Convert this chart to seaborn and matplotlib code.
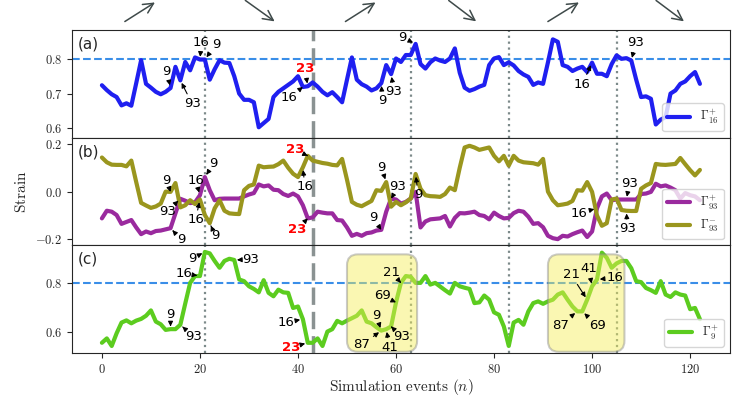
import numpy as np
import pandas as pd
import matplotlib.pyplot as plt
import seaborn as sns
from matplotlib.patches import FancyBboxPatch
from matplotlib.ticker import FuncFormatter

sns.set_style('ticks')
plt.rcParams['mathtext.fontset'] = 'cm'

n = np.arange(123)

g16p = [0.724, 0.710, 0.698, 0.690, 0.666, 0.672, 0.665, 0.730, 0.796, 0.728,
        0.717, 0.705, 0.698, 0.705, 0.716, 0.777, 0.738, 0.791, 0.767, 0.804,
        0.798, 0.798, 0.740, 0.770, 0.796, 0.789, 0.788, 0.750, 0.700, 0.682,
        0.682, 0.675, 0.603, 0.615, 0.627, 0.690, 0.705, 0.715, 0.725, 0.735,
        0.750, 0.719, 0.721, 0.732, 0.720, 0.705, 0.695, 0.704, 0.690, 0.675,
        0.740, 0.804, 0.740, 0.727, 0.720, 0.709, 0.715, 0.730, 0.782, 0.756,
        0.801, 0.791, 0.811, 0.811, 0.843, 0.785, 0.772, 0.790, 0.801, 0.795,
        0.791, 0.801, 0.830, 0.760, 0.717, 0.708, 0.713, 0.720, 0.725, 0.782,
        0.801, 0.805, 0.782, 0.790, 0.781, 0.765, 0.755, 0.748, 0.725, 0.732,
        0.728, 0.790, 0.856, 0.849, 0.782, 0.777, 0.765, 0.772, 0.777, 0.762,
        0.789, 0.757, 0.757, 0.750, 0.785, 0.810, 0.800, 0.802, 0.795, 0.740,
        0.690, 0.692, 0.685, 0.611, 0.625, 0.632, 0.700, 0.709, 0.728, 0.735,
        0.750, 0.762, 0.728]

g93p = [-0.112, -0.080, -0.084, -0.098, -0.135, -0.127, -0.119, -0.150, -0.178, -0.167,
        -0.174, -0.165, -0.163, -0.158, -0.153, -0.091, -0.030, -0.038, -0.048, -0.045,
        -0.015, 0.061, 0.006, -0.036, -0.030, -0.029, -0.029, -0.029, -0.029, -0.020,
        -0.012, -0.006, 0.030, 0.022, 0.026, 0.008, 0.006, -0.010, -0.018, -0.008,
        -0.020, -0.057, -0.112, -0.108, -0.084, -0.088, -0.091, -0.091, -0.119, -0.121,
        -0.150, -0.185, -0.177, -0.185, -0.174, -0.171, -0.163, -0.160, -0.084, -0.029,
        -0.033, -0.050, -0.043, -0.029, -0.001, -0.150, -0.125, -0.116, -0.114, -0.112,
        -0.102, -0.146, -0.110, -0.090, -0.091, -0.088, -0.084, -0.098, -0.102, -0.116,
        -0.088, -0.102, -0.112, -0.110, -0.090, -0.080, -0.084, -0.105, -0.135, -0.132,
        -0.149, -0.185, -0.195, -0.199, -0.185, -0.188, -0.178, -0.170, -0.163, -0.190,
        -0.167, -0.070, -0.020, -0.008, -0.036, -0.033, -0.033, -0.033, -0.033, -0.033,
        -0.010, -0.008, -0.001, 0.033, 0.022, 0.026, 0.017, 0.006, -0.029, -0.006,
        -0.015, -0.020, -0.036]

g93m = [0.143, 0.123, 0.113, 0.112, 0.112, 0.106, 0.130, 0.040, -0.047, -0.058,
        -0.068, -0.062, -0.050, 0.000, -0.001, 0.036, -0.066, -0.057, -0.036, -0.052,
        -0.033, -0.098, -0.132, -0.070, -0.036, -0.080, -0.091, -0.093, -0.094, 0.006,
        0.024, 0.030, 0.109, 0.102, 0.104, 0.105, 0.115, 0.130, 0.100, 0.075,
        0.061, 0.102, 0.150, 0.130, 0.125, 0.120, 0.117, 0.112, 0.110, 0.137,
        0.050, -0.043, -0.055, -0.061, -0.050, -0.039, 0.006, 0.003, 0.040, -0.063,
        -0.043, -0.057, -0.045, -0.029, 0.074, 0.012, -0.015, -0.019, -0.020, -0.022,
        -0.010, 0.017, 0.006, 0.100, 0.185, 0.192, 0.185, 0.175, 0.180, 0.185,
        0.150, 0.127, 0.150, 0.109, 0.150, 0.130, 0.123, 0.121, 0.119, 0.113,
        0.137, 0.000, -0.036, -0.057, -0.054, -0.050, -0.039, 0.006, 0.004, 0.040,
        -0.001, -0.100, -0.143, -0.132, -0.033, -0.029, -0.077, -0.080, -0.081, -0.081,
        0.012, 0.026, 0.036, 0.116, 0.113, 0.112, 0.114, 0.116, 0.141, 0.115,
        0.090, 0.068, 0.091]

g9p = [0.554, 0.572, 0.541, 0.593, 0.637, 0.646, 0.634, 0.645, 0.652, 0.665,
       0.687, 0.641, 0.630, 0.607, 0.610, 0.610, 0.628, 0.715, 0.800, 0.828,
       0.828, 0.927, 0.921, 0.890, 0.862, 0.890, 0.899, 0.894, 0.814, 0.807,
       0.786, 0.775, 0.761, 0.811, 0.759, 0.745, 0.772, 0.761, 0.759, 0.697,
       0.703, 0.651, 0.554, 0.554, 0.572, 0.541, 0.600, 0.610, 0.644, 0.634,
       0.645, 0.655, 0.665, 0.687, 0.641, 0.634, 0.618, 0.604, 0.610, 0.621,
       0.720, 0.800, 0.828, 0.825, 0.800, 0.800, 0.828, 0.793, 0.800, 0.785,
       0.770, 0.756, 0.800, 0.786, 0.780, 0.775, 0.717, 0.720, 0.748, 0.731,
       0.679, 0.669, 0.621, 0.541, 0.637, 0.648, 0.628, 0.683, 0.717, 0.724,
       0.714, 0.724, 0.731, 0.752, 0.761, 0.731, 0.703, 0.683, 0.683, 0.731,
       0.786, 0.814, 0.924, 0.903, 0.862, 0.880, 0.890, 0.890, 0.860, 0.807,
       0.803, 0.779, 0.770, 0.759, 0.807, 0.752, 0.742, 0.761, 0.752, 0.748,
       0.692, 0.697, 0.651]

df = pd.DataFrame({'n': n, 'g16p': g16p, 'g93p': g93p, 'g93m': g93m, 'g9p': g9p})

dotted_events = [21, 63, 83, 105]
dashed_event = 43
boxes = [(50, 64.3), (91, 106.6)]

# (label, target n, series, text x, text y, red)
notes_a = [('16', 20, 'g16p', 20.3, 0.848, False), ('9', 21, 'g16p', 23.3, 0.842, False),
           ('9', 14, 'g16p', 13.2, 0.764, False), ('93', 16, 'g16p', 18.4, 0.671, False),
           ('23', 42, 'g16p', 41.4, 0.772, True), ('16', 41, 'g16p', 38.2, 0.688, False),
           ('9', 57, 'g16p', 57.2, 0.680, False), ('93', 59, 'g16p', 59.6, 0.705, False),
           ('9', 64, 'g16p', 61.3, 0.862, False), ('16', 100, 'g16p', 98.0, 0.727, False),
           ('93', 108, 'g16p', 108.9, 0.846, False)]
notes_b = [('9', 14, 'g93m', 13.2, 0.048, False), ('93', 16, 'g93p', 13.3, -0.083, False),
           ('16', 20, 'g93p', 19.1, 0.048, False), ('9', 21, 'g93p', 22.8, 0.117, False),
           ('16', 20, 'g93m', 19.1, -0.118, False), ('9', 22, 'g93m', 23.1, -0.184, False),
           ('9', 14, 'g93p', 16.1, -0.200, False), ('23', 42, 'g93m', 39.4, 0.175, True),
           ('16', 41, 'g93m', 41.4, 0.020, False), ('23', 42, 'g93p', 39.8, -0.159, True),
           ('9', 58, 'g93m', 57.0, 0.103, False), ('93', 59, 'g93p', 60.4, 0.020, False),
           ('9', 57, 'g93p', 55.3, -0.110, False), ('9', 64, 'g93m', 64.5, -0.014, False),
           ('93', 107, 'g93p', 107.6, 0.034, False), ('93', 107, 'g93m', 107.2, -0.156, False),
           ('16', 101, 'g93p', 97.4, -0.090, False)]
notes_c = [('9', 14, 'g9p', 14.0, 0.669, False), ('93', 16, 'g9p', 18.7, 0.579, False),
           ('16', 20, 'g9p', 16.7, 0.839, False), ('9', 21, 'g9p', 18.4, 0.899, False),
           ('93', 27, 'g9p', 30.3, 0.896, False), ('16', 41, 'g9p', 37.6, 0.637, False),
           ('23', 42, 'g9p', 38.6, 0.535, True), ('9', 57, 'g9p', 56.0, 0.665, False),
           ('87', 57, 'g9p', 53.0, 0.545, False), ('41', 58, 'g9p', 58.7, 0.535, False),
           ('93', 59, 'g9p', 61.1, 0.579, False), ('69', 60, 'g9p', 57.2, 0.747, False),
           ('21', 61, 'g9p', 59.1, 0.844, False), ('21', 99, 'g9p', 95.7, 0.834, False),
           ('41', 100, 'g9p', 99.3, 0.858, False), ('16', 101, 'g9p', 104.7, 0.821, False),
           ('87', 97, 'g9p', 93.5, 0.627, False), ('69', 98, 'g9p', 101.1, 0.623, False)]

# direction arrows above the top panel: (start n, end n, up?)
top_arrows = [(4.2, 11.3, True), (28.8, 35.7, False), (49.2, 56.3, True),
              (70.3, 76.8, False), (90.5, 97.8, True), (112.6, 119.2, False)]

c_blue = '#1f1ff0'
c_purple = '#9a2a9e'
c_olive = '#9a961e'
c_green = '#5ccc1f'
c_hline = '#3a8ee8'
c_vline = '#7c8a8a'

fig, axs = plt.subplots(3, 1, figsize=(7.47, 3.98), dpi=100, sharex=True)
fig.subplots_adjust(left=0.0964, right=0.977, top=0.9246, bottom=0.113, hspace=0)

sns.lineplot(data=df, x='n', y='g16p', ax=axs[0], color=c_blue, lw=3, label=r'$\Gamma_{16}^{+}$')
sns.lineplot(data=df, x='n', y='g93p', ax=axs[1], color=c_purple, lw=3, label=r'$\Gamma_{93}^{+}$')
sns.lineplot(data=df, x='n', y='g93m', ax=axs[1], color=c_olive, lw=3, label=r'$\Gamma_{93}^{-}$')
sns.lineplot(data=df, x='n', y='g9p', ax=axs[2], color=c_green, lw=3, label=r'$\Gamma_{9}^{+}$')

for ax in axs:
    for x in dotted_events:
        ax.axvline(x, color=c_vline, ls=':', lw=1.6, zorder=1)
    ax.axvline(dashed_event, color='#8a9292', ls=(0, (5, 2)), lw=2.5, zorder=1)
    ax.set_ylabel('')
    ax.set_xlabel('')
    ax.legend(loc='lower right', fontsize=9, handlelength=1.8)
    ax.yaxis.set_major_formatter(FuncFormatter(lambda v, p: f'${v:.1f}$'))
    ax.tick_params(labelsize=9)

axs[0].axhline(0.8, color=c_hline, ls='--', lw=1.5, zorder=1)
axs[2].axhline(0.8, color=c_hline, ls='--', lw=1.5, zorder=1)

axs[0].set_ylim(0.573, 0.883)
axs[1].set_ylim(-0.225, 0.226)
axs[2].set_ylim(0.512, 0.954)
axs[0].set_yticks([0.6, 0.7, 0.8])
axs[1].set_yticks([-0.2, 0.0, 0.2])
axs[2].set_yticks([0.6, 0.8])
axs[2].set_xlim(-6.1, 128.1)
axs[2].set_xticks([0, 20, 40, 60, 80, 100, 120])
axs[2].xaxis.set_major_formatter(FuncFormatter(lambda v, p: f'${v:.0f}$'))
axs[0].tick_params(axis='x', bottom=False)
axs[1].tick_params(axis='x', bottom=False)

for ax, tag in zip(axs, ['(a)', '(b)', '(c)']):
    ax.text(0.009, 0.87, tag, transform=ax.transAxes, fontsize=11, va='center', ha='left')

axs[2].set_xlabel(r'$\mathrm{Simulation\ events}\ (n)$', fontsize=11, labelpad=1)
axs[1].set_ylabel(r'$\mathrm{Strain}$', fontsize=11)
axs[1].yaxis.set_label_coords(-0.066, 0.5)

# highlighted windows in (c)
asp = (4.915 / 241.5)
for x0, x1 in boxes:
    box = FancyBboxPatch((x0, 0.517), x1 - x0, 0.4,
                         boxstyle='round,pad=0,rounding_size=2.2', mutation_aspect=asp,
                         facecolor='#f4ef55', edgecolor='#8a8a8a', alpha=0.45, lw=1.5, zorder=4)
    axs[2].add_patch(box)

for ax, notes in zip(axs, [notes_a, notes_b, notes_c]):
    for lab, tn, ser, tx, ty, red in notes:
        ax.annotate(lab, xy=(tn, df[ser][tn]), xytext=(tx, ty), fontsize=9.5,
                    ha='center', va='center', zorder=6,
                    color='red' if red else 'black', fontweight='bold' if red else 'normal',
                    arrowprops=dict(arrowstyle='-|>', color='k', lw=0.8,
                                    mutation_scale=7, shrinkA=0, shrinkB=2))

for x0, x1, up in top_arrows:
    y0, y1 = (1.065, 1.27) if up else (1.29, 1.065)
    axs[0].annotate('', xy=(x1, y1), xytext=(x0, y0),
                    xycoords=('data', 'axes fraction'), textcoords=('data', 'axes fraction'),
                    annotation_clip=False,
                    arrowprops=dict(arrowstyle='->', color='#3f4a4a', lw=1.1, mutation_scale=18))

plt.savefig('out.png', dpi=100)
